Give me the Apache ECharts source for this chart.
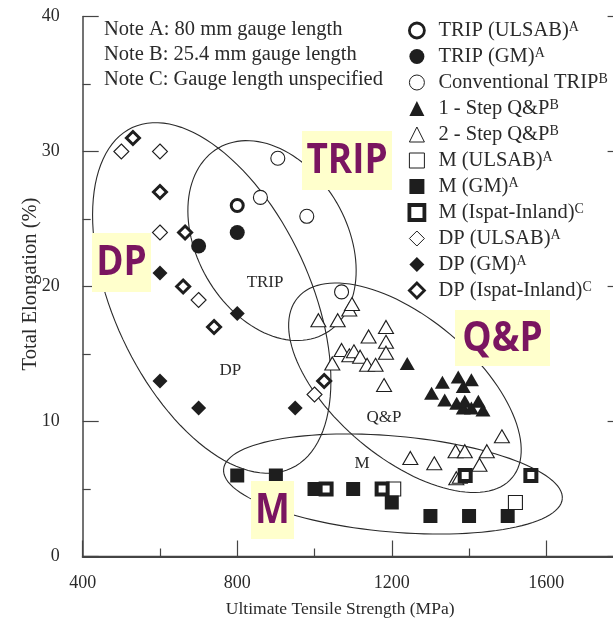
<!DOCTYPE html>
<html><head><meta charset="utf-8">
<script src="https://cdn.jsdelivr.net/npm/echarts@6/dist/echarts.min.js"></script>
<style>html,body{margin:0;padding:0;background:#fff}#c{width:613px;height:625px}</style>
</head><body><div id="c"></div>
<script>
// ---------- data (UTS MPa, total elongation %) ----------
const seriesNames = ['TRIP (ULSAB)','TRIP (GM)','Conventional TRIP','1 - Step Q&P','2 - Step Q&P',
  'M (ULSAB)','M (GM)','M (Ispat-Inland)','DP (ULSAB)','DP (GM)','DP (Ispat-Inland)'];
const noteLetters = ['A','A','B','B','B','A','A','C','A','A','C'];
const tripUlsab = [[800,26]];
const tripGM = [[700,23],[800,24]];
const convTrip = [[860,26.6],[905,29.5],[980,25.2],[1070,19.6]];
const qp1Step = [[1240,14.3],[1303,12.1],[1331,12.9],[1337,11.6],[1372,13.3],[1368,11.35],[1385,12.6],
  [1385,11.0],[1389,11.5],[1406,13.1],[1406,11.0],[1424,11.5],[1436,10.85]];
const qp2Step = [[1010,17.5],[1060,17.5],[1090,18.3],[1097,18.7],[1046,14.3],[1070,15.3],[1090,14.9],
  [1102,15.2],[1118,14.8],[1136,14.2],[1158,14.2],[1140,16.3],[1185,17.0],[1185,15.9],[1185,15.1],
  [1180,12.7],[1485,8.9],[1365,7.8],[1389,7.8],[1446,7.8],[1248,7.3],[1310,6.9],[1427,6.8],[1367,5.8],[1376,5.9]];
const mUlsab = [[1205,5],[1520,4]];
const mGM = [[800,6],[900,6],[1000,5],[1100,5],[1200,4],[1300,3],[1400,3],[1500,3]];
const mIspat = [[1030,5],[1175,5],[1390,6],[1560,6]];
const dpUlsab = [[500,30],[600,30],[600,24],[700,19],[1000,12]];
const dpGM = [[600,21],[600,13],[700,11],[800,18],[950,11]];
const dpIspat = [[530,31],[600,27],[665,24],[660,20],[740,17],[1025,13]];
const xTicks = [400,800,1200,1600];
const yTicks = [0,10,20,30,40];
const notes = ['Note A: 80 mm gauge length','Note B: 25.4 mm gauge length','Note C: Gauge length unspecified'];
const regionNames = ['TRIP','DP','Q&P','M'];
const regionLabelAt = [[872,20.26],[782,13.8],[1180,10.3],[1123,6.9]];
const highlightNames = ['TRIP','DP','Q&P','M'];

// ---------- annotation geometry (centre in data units, radii px, tilt deg) ----------
const ellipses = [
  {c:[734,19.15], a:188, b:98, ang:65},
  {c:[890,23.4], a:107, b:75, ang:60},
  {c:[1234,12.5], a:140, b:70, ang:40},
  {c:[1203,5.37], a:170, b:48, ang:5}
];
const highlightBoxes = [[302,131,90,59],[92,233,59,59],[455,310,95,56],[251,481,43,58]];

const serif = 'Liberation Serif';
const ink = '#1e1e1e';
const styles = [
  {symbol:'circle', size:12, fill:'#fff', bw:3},
  {symbol:'circle', size:15, fill:ink, bw:0},
  {symbol:'circle', size:14, fill:'#fff', bw:1.1},
  {symbol:'triangle', size:[15,13], fill:ink, bw:0},
  {symbol:'triangle', size:[15,13], fill:'#fff', bw:1.1},
  {symbol:'rect', size:14, fill:'#fff', bw:1.1},
  {symbol:'rect', size:14, fill:ink, bw:0},
  {symbol:'rect', size:11, fill:'#fff', bw:4},
  {symbol:'diamond', size:15, fill:'#fff', bw:1.1},
  {symbol:'diamond', size:15, fill:ink, bw:0},
  {symbol:'diamond', size:13, fill:'#fff', bw:3}
];
const legendIconBw = [2.8,0,1,0,1,1,0,3.8,1,0,2.8];
const datasets = [tripUlsab,tripGM,convTrip,qp1Step,qp2Step,mUlsab,mGM,mIspat,dpUlsab,dpGM,dpIspat];

const chart = echarts.init(document.getElementById('c'), null, {renderer:'canvas'});

const scatterSeries = datasets.map((d,i)=>({
  name: seriesNames[i], type:'scatter', data:d, z:5,
  symbol: styles[i].symbol, symbolSize: styles[i].size,
  itemStyle:{color:styles[i].fill, borderColor:ink, borderWidth:styles[i].bw, opacity:1},
  emphasis:{disabled:true}
}));

const ellipseSeries = {
  type:'custom', silent:true, z:3,
  data: ellipses.map(e=>e.c),
  renderItem:(params, api)=>{
    const e = ellipses[params.dataIndex];
    const c = api.coord([api.value(0), api.value(1)]);
    const th = e.ang*Math.PI/180, pts=[];
    for(let k=0;k<=120;k++){
      const t=k/120*2*Math.PI, x=e.a*Math.cos(t), y=e.b*Math.sin(t);
      pts.push([c[0]+x*Math.cos(th)-y*Math.sin(th), c[1]+x*Math.sin(th)+y*Math.cos(th)]);
    }
    return {type:'polyline', shape:{points:pts}, style:{stroke:'#2a2a2a', lineWidth:1.1, fill:null}};
  }
};
const regionLabelSeries = {
  type:'custom', silent:true, z:4,
  data: regionLabelAt,
  renderItem:(params, api)=>{
    const c = api.coord([api.value(0), api.value(1)]);
    return {type:'text', x:c[0], y:c[1], style:{text:regionNames[params.dataIndex], fill:'#2a2a2a',
      font:'17px "'+serif+'"', textAlign:'center', textVerticalAlign:'middle'}};
  }
};

const graphics = [];
notes.forEach((t,i)=>graphics.push({type:'text', x:104, y:29.5+i*25,
  style:{text:t, fill:'#2a2a2a', font:'20.5px "'+serif+'"', textVerticalAlign:'middle'}}));
highlightBoxes.forEach((b,i)=>{
  graphics.push({type:'rect', shape:{x:b[0],y:b[1],width:b[2],height:b[3]}, style:{fill:'#FFFFCC'}, z:10});
  graphics.push({type:'text', x:b[0]+b[2]/2, y:b[1]+b[3]/2+1, scaleX:0.88, z:11,
    style:{text:highlightNames[i], fill:'#7A1560', font:'bold 42px "Open Sans"', textAlign:'center', textVerticalAlign:'middle'}});
});

const axisCol = '#444';
chart.setOption({
  animation:false,
  backgroundColor:'#fff',
  grid:{left:82.7, width:540.9, top:16.5, bottom:68.5, outerBoundsMode:'none', containLabel:false},
  legend:{
    orient:'vertical', left:402.5, top:15, itemWidth:15, itemHeight:15, itemGap:5,
    selectedMode:false,
    data: seriesNames.map((n,i)=>({name:n, itemStyle:{borderWidth:legendIconBw[i], borderColor:ink}})),
    formatter: n => { const i = seriesNames.indexOf(n); return n + '{sup|' + noteLetters[i] + '}'; },
    textStyle:{fontFamily:serif, fontSize:20.5, color:'#2a2a2a', lineHeight:20, padding:[0,0,0,9],
      rich:{sup:{fontFamily:serif, fontSize:14, color:'#2a2a2a', verticalAlign:'top', lineHeight:12}}}
  },
  xAxis:[{
    type:'value', min:400, max:1800, interval:400, position:'bottom',
    axisLine:{show:true, lineStyle:{color:axisCol, width:2}},
    axisTick:{inside:true, length:16, lineStyle:{color:axisCol, width:1.2}},
    minorTick:{show:true, splitNumber:2, length:8, lineStyle:{color:axisCol, width:1.2}},
    splitLine:{show:false},
    axisLabel:{fontFamily:serif, fontSize:18, color:'#2a2a2a', margin:18,
      formatter: v => xTicks.includes(v) ? String(v) : ''},
    name:'Ultimate Tensile Strength (MPa)', nameLocation:'middle', nameGap:44, nameMoveOverlap:false,
    nameTextStyle:{fontFamily:serif, fontSize:17.5, color:'#2a2a2a', padding:[0,26,0,0]}
  },{
    type:'value', min:400, max:1800, interval:400, position:'top',
    axisLine:{show:true, lineStyle:{color:axisCol, width:1.3}},
    axisTick:{show:false}, axisLabel:{show:false}, splitLine:{show:false}
  }],
  yAxis:[{
    type:'value', min:0, max:40, interval:10, position:'left',
    axisLine:{show:true, lineStyle:{color:axisCol, width:1.5}},
    axisTick:{inside:true, length:16, lineStyle:{color:axisCol, width:1.2}},
    minorTick:{show:true, splitNumber:2, length:8, lineStyle:{color:axisCol, width:1.2}},
    splitLine:{show:false},
    axisLabel:{fontFamily:serif, fontSize:18, color:'#2a2a2a', margin:23,
      formatter: v => yTicks.includes(v) ? String(v) : ''},
    name:'Total Elongation (%)', nameLocation:'middle', nameGap:42, nameMoveOverlap:false,
    nameTextStyle:{fontFamily:serif, fontSize:20.5, color:'#2a2a2a', padding:[0,0,0,5]}
  },{
    type:'value', min:0, max:40, interval:10, position:'right',
    axisLine:{show:true, lineStyle:{color:axisCol, width:1.3}},
    axisTick:{inside:true, length:16, lineStyle:{color:axisCol, width:1.2}},
    minorTick:{show:true, splitNumber:2, length:8, lineStyle:{color:axisCol, width:1.2}},
    axisLabel:{show:false}, splitLine:{show:false}
  }],
  graphic: graphics,
  series: [ellipseSeries, regionLabelSeries, ...scatterSeries]
});
</script></body></html>
